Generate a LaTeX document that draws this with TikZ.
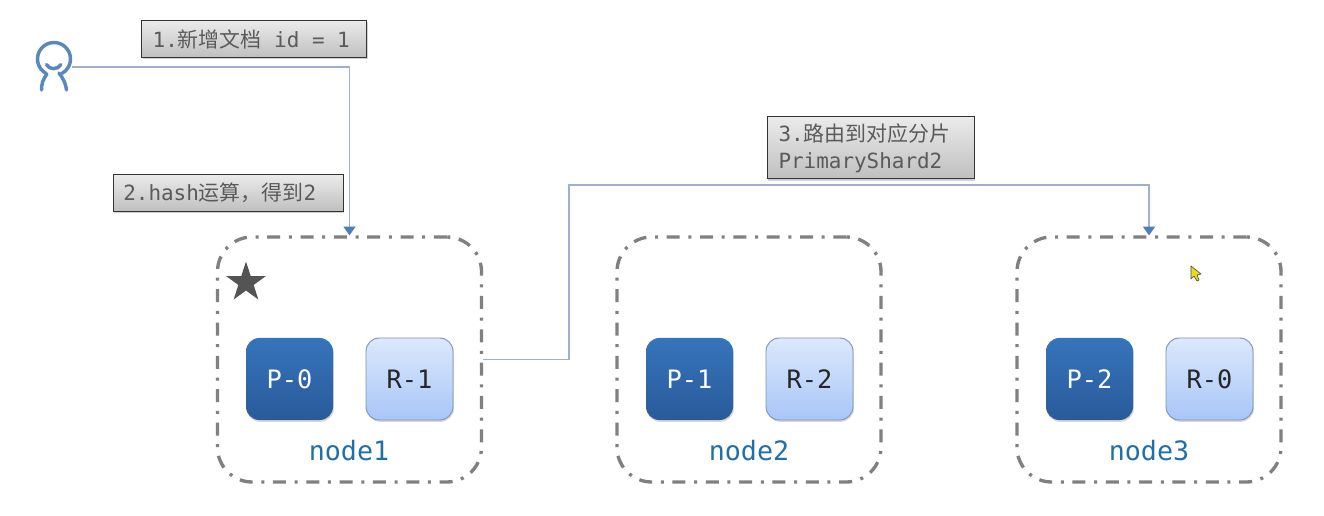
\documentclass[tikz,border=0pt]{standalone}
\usepackage{fontspec}
\setmonofont{DejaVu Sans Mono}
\newfontfamily\cjk{Noto Sans CJK SC}
\usetikzlibrary{arrows.meta,shadows,shapes.geometric}
\newcommand{\monogap}{\hspace*{0.602em}}
\definecolor{boxgrey}{HTML}{808080}
\definecolor{linkblue}{HTML}{9DB0CF}
\definecolor{tipblue}{HTML}{4F7DB5}
\definecolor{personblue}{HTML}{5B87BB}
\definecolor{labeltext}{HTML}{5A5A5A}
\definecolor{nodetext}{HTML}{1F6FA8}
\definecolor{HexP1}{HTML}{3674BB}
\definecolor{HexP2}{HTML}{2A5A9A}
\definecolor{HexR1}{HTML}{DCE8FC}
\definecolor{HexR2}{HTML}{A8C6F8}
\definecolor{HexRb}{HTML}{7F93B5}
\tikzset{
  x=0.75pt,y=-0.75pt,
  nodebox/.style={draw=boxgrey,line width=2.5pt,rounded corners=26pt,
    dash pattern=on 9.75pt off 6.5pt on 2.25pt off 6.5pt,
    minimum width=198pt,minimum height=183.75pt,inner sep=0pt},
  shardbase/.style={rounded corners=10pt,minimum width=65.25pt,minimum height=61.5pt,
    inner sep=0pt,font=\ttfamily\fontsize{19}{22}\selectfont,
    drop shadow={shadow xshift=0.6pt,shadow yshift=-1.4pt,opacity=.3}},
  primary/.style={shardbase,top color=HexP1,bottom color=HexP2,text=white},
  replica/.style={shardbase,draw=HexRb,line width=.7pt,top color=HexR1,bottom color=HexR2,text=black!85},
  tag/.style={draw=black!80,line width=.75pt,top color=black!8,bottom color=black!25,
    text=labeltext,align=left,inner sep=0pt,
    font=\ttfamily\fontsize{15.7}{20}\selectfont,
    drop shadow={shadow xshift=0.8pt,shadow yshift=-1.2pt,opacity=.35}},
  nodelabel/.style={text=nodetext,font=\ttfamily\fontsize{20}{24}\selectfont,inner sep=0pt},
  link/.style={draw=linkblue,line width=1pt},
  linkarrow/.style={link,-{Triangle[length=6.5pt,width=9pt,color=tipblue]}},
  person/.style={draw=personblue,line width=2.6pt,line cap=round},
}
\begin{document}
\begin{tikzpicture}
\useasboundingbox[fill=white] (0,0) rectangle (1324,516);
% node frames
\node[nodebox] (n1) at (349.5,359.5) {};
\node[nodebox] (n2) at (749,359.5) {};
\node[nodebox] (n3) at (1149,359.5) {};
% master star
\node[star,star points=5,star point ratio=2.618,fill=black!67,minimum size=31.5pt,inner sep=0pt] (master) at (246,282.5) {};
% shards
\node[primary] (p0) at (289.5,379) {P-0};
\node[replica] (r1) at (409.5,379) {R-1};
\node[primary] (p1) at (689.5,379) {P-1};
\node[replica] (r2) at (809.5,379) {R-2};
\node[primary] (p2) at (1089.5,379) {P-2};
\node[replica] (r0) at (1209.5,379) {R-0};
% node names
\node[nodelabel] (l1) at (349,451) {node1};
\node[nodelabel] (l2) at (749,451) {node2};
\node[nodelabel] (l3) at (1149,451) {node3};
% person
\draw[person] (54,59) ++(120:16.5) arc[start angle=120,end angle=420,radius=16.5];
\draw[person] (46.5,64.5) .. controls (49,70) and (58,70) .. (61,64.5);
\draw[person] (47,74) .. controls (43,79) and (41.5,84) .. (41.5,90);
\draw[person] (59,73) .. controls (63,78) and (66,84) .. (66.5,90);
\coordinate (user) at (72,67);
\coordinate (via) at (569,185);
% connectors
\draw[linkarrow] (user) -| (n1.north);
\draw[linkarrow] (n1.east) -| (via) -| (n3.north);
% labels
\node[tag,minimum width=168.75pt,minimum height=27.75pt,text width=152pt] (t1) at (254,39) {1.{\cjk 新增文档}\monogap id\monogap =\monogap 1};
\node[tag,minimum width=172.5pt,minimum height=27.75pt,text width=157pt] (t2) at (228,193) {2.hash{\cjk 运算，得到}2};
\node[tag,minimum width=155.25pt,minimum height=46.5pt,text width=138pt] (t3) at (870.5,148) {3.{\cjk 路由到对应分片}\\PrimaryShard2};
% mouse cursor
\draw[fill=yellow!90!black,draw=black!70,line width=.5pt,line join=round] (1191,266) -- (1191,279) -- (1194,276) -- (1197,281) -- (1199,280) -- (1197,275) -- (1201,274) -- cycle;
\end{tikzpicture}
\end{document}
